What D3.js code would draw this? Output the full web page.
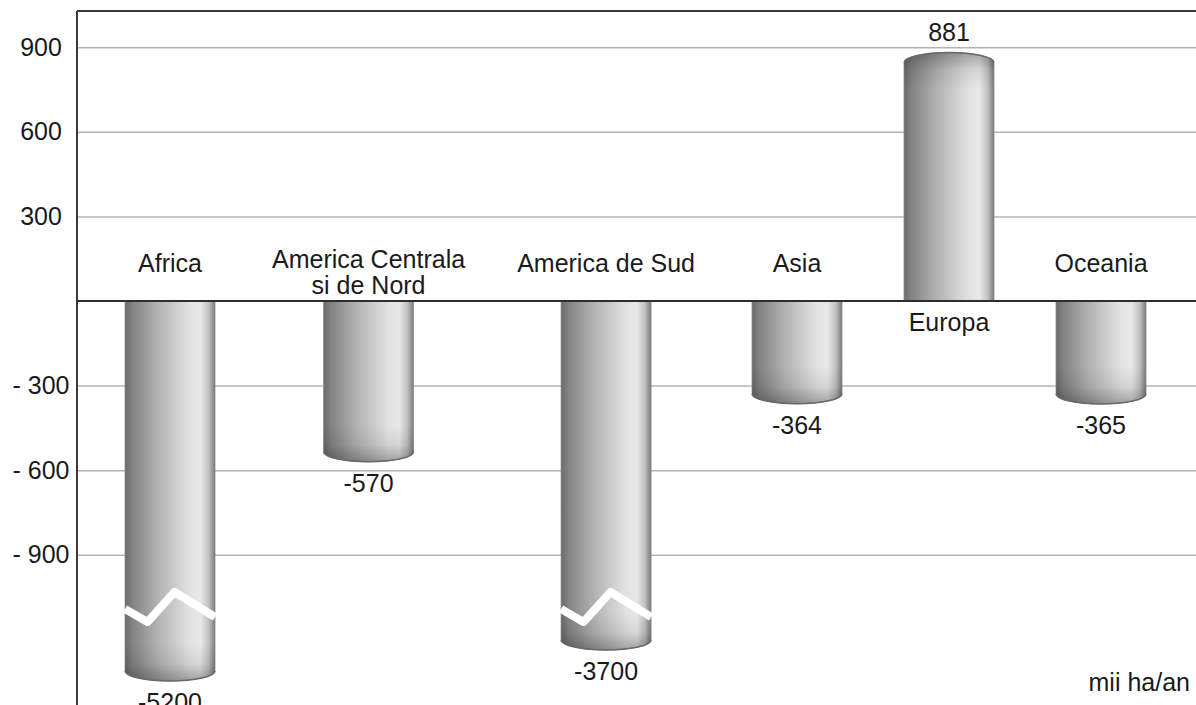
<!DOCTYPE html>
<html>
    <head>
        <script src="https://d3js.org/d3.v7.min.js"></script>
        <style>
            body { margin: 0; background: #fff; }
            text { font-family: "Liberation Sans", Arial, sans-serif; fill: #1a1a1a; }
        </style>
    </head>
    <body>
        <script>
            // Data (mii ha/an)
            const categories = ["Africa", "America Centrala\nsi de Nord", "America de Sud", "Asia", "Europa", "Oceania"];
            const values = [-5200, -570, -3700, -364, 881, -365];
            const yTicks = [900, 600, 300, -300, -600, -900];
            const unitLabel = "mii ha/an";
            // values below this are drawn on a compressed (broken) part of the axis
            const axisBreak = -1000;

            const width = 1196, height = 705;
            const plotLeft = 77, plotTop = 11;
            const xFirst = 170, xLast = 1101;
            const barWidth = 90;
            const minSlot = 100;
            const capRy = 10;
            const fontSize = 25;

            const svg = d3.select("body").append("svg")
                .attr("width", width)
                .attr("height", height);

            // polylinear y: linear from -1000 to 1000, squeezed below the break
            const y = d3.scaleLinear()
                .domain([-5200, -3700, axisBreak, 1000])
                .range([681, 650, 583, 19]);

            //Categories get slots as wide as their label, equal gaps in between:
            function textWidth(str) {
                const t = svg.append("text").style("font-size", fontSize + "px").text(str);
                const w = t.node().getComputedTextLength();
                t.remove();
                return w;
            }
            const slots = categories.map(c => Math.max(minSlot, d3.max(c.split("\n"), textWidth)));
            let halfSum = 0;
            for (let i = 0; i < slots.length - 1; i++) {
                halfSum += (slots[i] + slots[i + 1]) / 2;
            }
            const gap = (xLast - xFirst - halfSum) / (slots.length - 1);
            const centers = [xFirst];
            for (let i = 1; i < slots.length; i++) {
                centers.push(centers[i - 1] + (slots[i - 1] + slots[i]) / 2 + gap);
            }
            const x = d3.scaleOrdinal()
                .domain(categories)
                .range(centers);

            //Gradients for the cylinder look:
            const defs = svg.append("defs");
            const hg = defs.append("linearGradient").attr("id", "cyl")
                .attr("x1", "0%").attr("x2", "100%").attr("y1", "0%").attr("y2", "0%");
            [[0, "#6a6a6a"], [0.08, "#828282"], [0.35, "#b0b0b0"], [0.72, "#e2e2e2"], [0.84, "#e8e8e8"], [0.93, "#c2c2c2"], [1, "#7a7a7a"]]
                .forEach(s => hg.append("stop").attr("offset", s[0]).attr("stop-color", s[1]));

            const capDown = defs.append("linearGradient").attr("id", "capDown")
                .attr("x1", "0%").attr("x2", "0%").attr("y1", "0%").attr("y2", "100%");
            capDown.append("stop").attr("offset", 0).attr("stop-color", "#000").attr("stop-opacity", 0);
            capDown.append("stop").attr("offset", 0.55).attr("stop-color", "#000").attr("stop-opacity", 0.08);
            capDown.append("stop").attr("offset", 1).attr("stop-color", "#000").attr("stop-opacity", 0.3);

            const capUp = defs.append("linearGradient").attr("id", "capUp")
                .attr("x1", "0%").attr("x2", "0%").attr("y1", "100%").attr("y2", "0%");
            capUp.append("stop").attr("offset", 0).attr("stop-color", "#000").attr("stop-opacity", 0);
            capUp.append("stop").attr("offset", 0.55).attr("stop-color", "#000").attr("stop-opacity", 0.08);
            capUp.append("stop").attr("offset", 1).attr("stop-color", "#000").attr("stop-opacity", 0.3);

            //Grid lines and tick labels:
            const yAxis = d3.axisLeft(y)
                .tickValues(yTicks)
                .tickSize(-(width - plotLeft))
                .tickFormat(d => d < 0 ? "- " + Math.abs(d) : d);

            const gAxis = svg.append("g")
                .attr("transform", "translate(" + plotLeft + ",0)")
                .call(yAxis);
            gAxis.select(".domain").remove();
            gAxis.selectAll(".tick line")
                .attr("stroke", "#b4b4b4")
                .attr("stroke-width", 1.5);
            gAxis.selectAll(".tick text")
                .attr("x", -36)
                .attr("text-anchor", "middle")
                .style("font-size", fontSize + "px")
                .style("font-family", "'Liberation Sans', Arial, sans-serif")
                .attr("fill", "#1a1a1a");

            //Bars as cylinders:
            const data = categories.map((c, i) => ({ name: c, value: values[i] }));

            function barPath(d) {
                const x0 = x(d.name) - barWidth / 2, x1 = x(d.name) + barWidth / 2;
                const y0 = y(0), yE = y(d.value), r = barWidth / 2;
                if (d.value < 0) {
                    return "M" + x0 + "," + y0 + "L" + x1 + "," + y0 + "L" + x1 + "," + (yE - capRy) +
                        "A" + r + "," + capRy + " 0 0 1 " + x0 + "," + (yE - capRy) + "Z";
                }
                return "M" + x0 + "," + y0 + "L" + x0 + "," + (yE + capRy) +
                    "A" + r + "," + capRy + " 0 0 1 " + x1 + "," + (yE + capRy) + "L" + x1 + "," + y0 + "Z";
            }
            function capPath(d) {
                const x0 = x(d.name) - barWidth / 2, x1 = x(d.name) + barWidth / 2;
                const yE = y(d.value), r = barWidth / 2, h = 28;
                if (d.value < 0) {
                    return "M" + x0 + "," + (yE - capRy - h) + "L" + x1 + "," + (yE - capRy - h) + "L" + x1 + "," + (yE - capRy) +
                        "A" + r + "," + capRy + " 0 0 1 " + x0 + "," + (yE - capRy) + "Z";
                }
                return "M" + x0 + "," + (yE + capRy + h) + "L" + x0 + "," + (yE + capRy) +
                    "A" + r + "," + capRy + " 0 0 1 " + x1 + "," + (yE + capRy) + "L" + x1 + "," + (yE + capRy + h) + "Z";
            }
            function rimPath(d) {
                const x0 = x(d.name) - barWidth / 2, x1 = x(d.name) + barWidth / 2;
                const yE = y(d.value), r = barWidth / 2;
                if (d.value < 0) {
                    return "M" + x1 + "," + (yE - capRy) + "A" + r + "," + capRy + " 0 0 1 " + x0 + "," + (yE - capRy);
                }
                return "M" + x0 + "," + (yE + capRy) + "A" + r + "," + capRy + " 0 0 1 " + x1 + "," + (yE + capRy);
            }

            const bars = svg.append("g").selectAll("g")
                .data(data)
                .enter()
                .append("g");

            bars.append("path")
                .attr("d", barPath)
                .attr("fill", "url(#cyl)")
                .attr("stroke", "#8c8c8c")
                .attr("stroke-width", 0.8);
            bars.append("path")
                .attr("d", capPath)
                .attr("fill", d => d.value < 0 ? "url(#capDown)" : "url(#capUp)");
            bars.append("path")
                .attr("d", rimPath)
                .attr("fill", "none")
                .attr("stroke", "#6a6a6a")
                .attr("stroke-width", 1.5);

            //White zigzag where the axis is broken:
            const zig = d3.line();
            bars.filter(d => d.value < axisBreak)
                .append("path")
                .attr("d", d => {
                    const x0 = x(d.name) - barWidth / 2, yb = y(axisBreak) + 26;
                    return zig([[x0, yb], [x0 + barWidth * 0.25, yb + 13], [x0 + barWidth * 0.55, yb - 17], [x0 + barWidth, yb + 8]]);
                })
                .attr("fill", "none")
                .attr("stroke", "#fff")
                .attr("stroke-width", 8)
                .attr("stroke-linejoin", "round");

            //Frame and zero line:
            svg.append("line")
                .attr("x1", plotLeft).attr("x2", width)
                .attr("y1", plotTop).attr("y2", plotTop)
                .attr("stroke", "#3a3a3a").attr("stroke-width", 2);
            svg.append("line")
                .attr("x1", plotLeft).attr("x2", plotLeft)
                .attr("y1", plotTop).attr("y2", height)
                .attr("stroke", "#3a3a3a").attr("stroke-width", 2);
            svg.append("line")
                .attr("x1", plotLeft).attr("x2", width)
                .attr("y1", y(0)).attr("y2", y(0))
                .attr("stroke", "#2e2e2e").attr("stroke-width", 2);

            //Category names (above zero line for negative bars, below for positive):
            const names = svg.append("g").selectAll("text")
                .data(data)
                .enter()
                .append("text")
                .attr("text-anchor", "middle")
                .style("font-size", fontSize + "px")
                .attr("y", d => d.value < 0 ? y(0) - 29 : y(0) + 30);
            names.selectAll("tspan")
                .data(d => d.name.split("\n").map((t, i, a) => ({ t: t, i: i, n: a.length, name: d.name })))
                .enter()
                .append("tspan")
                .attr("x", d => x(d.name))
                .attr("dy", d => d.i === 0 ? (d.n > 1 ? -4 : 0) : 26)
                .text(d => d.t);

            //Value labels at the end of each bar:
            svg.append("g").selectAll("text")
                .data(data)
                .enter()
                .append("text")
                .attr("text-anchor", "middle")
                .style("font-size", fontSize + "px")
                .attr("x", d => x(d.name))
                .attr("y", d => d.value < 0 ? y(d.value) + 30 : y(d.value) - 12)
                .text(d => d.value);

            svg.append("text")
                .attr("x", width - 6)
                .attr("y", height - 14)
                .attr("text-anchor", "end")
                .style("font-size", fontSize + "px")
                .text(unitLabel);
        </script>
    </body>
</html>
